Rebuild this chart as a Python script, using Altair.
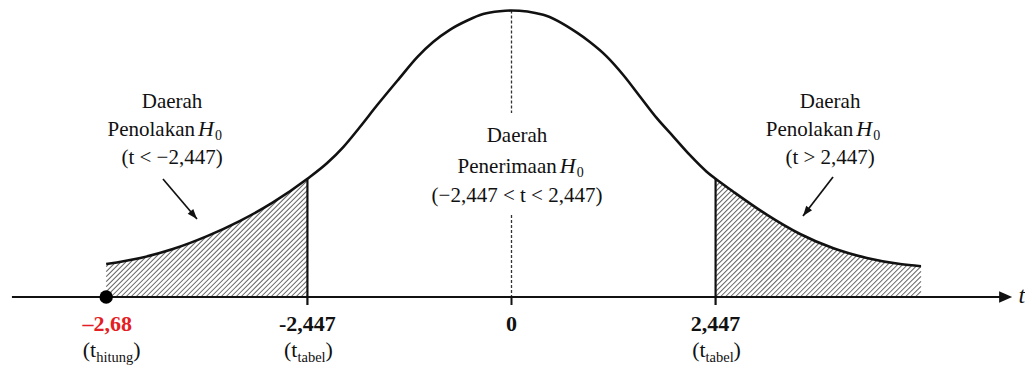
import math
import altair as alt
import pandas as pd

# ---------------- data ----------------
# curve heights (relative density) left half and right half, read separately
LEFT_T = [-4.86, -4.45, -4.06, -3.65, -3.26, -2.86, -2.447, -2.21, -2.02, -1.82,
          -1.61, -1.34, -1.13, -0.94, -0.74, -0.53, -0.34, -0.14, 0.0]
LEFT_Y = [0.046, 0.0545, 0.067, 0.085, 0.106, 0.132, 0.165, 0.187, 0.209, 0.237,
          0.268, 0.306, 0.335, 0.356, 0.373, 0.386, 0.395, 0.399, 0.400]
RIGHT_T = [0.38, 0.785, 0.94, 1.14, 1.34, 1.54, 1.74, 1.94, 2.14, 2.34, 2.447,
           2.66, 3.06, 3.46, 3.86, 4.26, 4.66, 4.91]
RIGHT_Y = [0.394, 0.369, 0.356, 0.336, 0.310, 0.280, 0.250, 0.224, 0.198, 0.175, 0.165,
           0.147, 0.115, 0.088, 0.068, 0.0545, 0.046, 0.043]

T_CRIT = 2.447
T_HITUNG_POS = -4.86          # where the dot is drawn
TICK_T = [-2.447, 0.0, 2.447]
TICK_LABELS = ["-2,447", "0", "2,447"]
HITUNG_LABEL = "–2,68"
SUB_LABELS = ["hitung", "tabel", "tabel"]

ANN_X = [-4.07, 0.066, 3.82]
ANN_L1 = ["Daerah", "Daerah", "Daerah"]
ANN_L1_Y = [0.264, 0.216, 0.264]
ANN_L2 = ["Penolakan", "Penerimaan", "Penolakan"]
ANN_L2_END = [-3.795, 0.542, 4.098]
ANN_L2_Y = [0.225, 0.173, 0.225]
ANN_L3 = ["(t < −2,447)", "(−2,447 < t < 2,447)", "(t > 2,447)"]
ANN_L3_Y = [0.186, 0.133, 0.186]

ARROW_X1 = [-4.179, 3.855]
ARROW_Y1 = [0.1647, 0.1675]
ARROW_X2 = [-3.771, 3.495]
ARROW_Y2 = [0.1089, 0.1131]

AXIS_START = -5.99
AXIS_HEAD = 5.925
AXIS_LABEL_T = 6.16
LBL_Y = -0.0475
SUB_Y = -0.0838
TICK_LOW = -0.0112
DOT_GAP = [0.2569, 0.1145]   # dotted centre line broken around the text

# ---------------- layout ----------------
W, H = 1017, 359
X0_PX, Y0_PX = 503.5, 289.0
SX, SY = 83.4, 716.25
XDOM = [-X0_PX / SX, (W - X0_PX) / SX]
YDOM = [-(H - Y0_PX) / SY, Y0_PX / SY]
SERIF = "Liberation Serif"
RED = "#e31e24"
INK = "#111111"


def X(f):
    return alt.X(f, type="quantitative", scale=alt.Scale(domain=XDOM, nice=False, zero=False), axis=None)


def Y(f):
    return alt.Y(f, type="quantitative", scale=alt.Scale(domain=YDOM, nice=False, zero=False), axis=None)


curve = pd.DataFrame({"t": LEFT_T + RIGHT_T, "y": LEFT_Y + RIGHT_Y}).sort_values("t")

HATCH_TOP = 0.168
MASK_TOP = 0.172


def hatch(x0, x1, top, step=5.0):
    w = (x1 - x0) * SX
    h = top * SY
    rows = []
    c = -h
    while c < w:
        s0 = max(0.0, c)
        s1 = min(w, c + h)
        if s1 > s0:
            rows.append({"hx": x0 + s0 / SX, "hy": (s0 - c) / SY,
                         "hx2": x0 + s1 / SX, "hy2": (s1 - c) / SY})
        c += step
    return rows


hatch_df = pd.DataFrame(hatch(LEFT_T[0], -T_CRIT, HATCH_TOP) + hatch(T_CRIT, RIGHT_T[-1], HATCH_TOP))

left_mask = curve[curve.t <= -2.0].assign(top=MASK_TOP)
right_mask = curve[curve.t >= 2.1].assign(top=MASK_TOP)

hatch_layer = alt.Chart(hatch_df).mark_rule(color="#666666", strokeWidth=1.05).encode(
    x=X("hx"), y=Y("hy"), x2=alt.X2("hx2"), y2=alt.Y2("hy2"))
mask_l = alt.Chart(left_mask).mark_area(color="white", interpolate="monotone").encode(
    x=X("t"), y=Y("y"), y2=alt.Y2("top"))
mask_r = alt.Chart(right_mask).mark_area(color="white", interpolate="monotone").encode(
    x=X("t"), y=Y("y"), y2=alt.Y2("top"))
edge_df = pd.DataFrame({
    "x": [LEFT_T[0] - 0.06, RIGHT_T[-1] - 0.01],
    "x2": [LEFT_T[0] + 0.01, RIGHT_T[-1] + 0.06],
    "y": [LEFT_Y[0] + 0.003, RIGHT_Y[-1] + 0.003],
    "y2": [MASK_TOP, MASK_TOP],
})
edge_mask = alt.Chart(edge_df).mark_rect(color="white").encode(
    x=X("x"), x2=alt.X2("x2"), y=Y("y"), y2=alt.Y2("y2"))

dotted_df = pd.DataFrame({"x": [0.0, 0.0], "y": [max(LEFT_Y), DOT_GAP[1]], "y2": [DOT_GAP[0], 0.0]})
dotted = alt.Chart(dotted_df).mark_rule(color="#333333", strokeWidth=1.3, strokeDash=[3, 2]).encode(
    x=X("x"), y=Y("y"), y2=alt.Y2("y2"))

curve_line = alt.Chart(curve).mark_line(color=INK, strokeWidth=2.6, interpolate="monotone").encode(
    x=X("t"), y=Y("y"))

crit_df = pd.DataFrame({"x": [-T_CRIT, T_CRIT], "y": [0.165, 0.165], "y2": [TICK_LOW, TICK_LOW]})
crit = alt.Chart(crit_df).mark_rule(color=INK, strokeWidth=2.2).encode(x=X("x"), y=Y("y"), y2=alt.Y2("y2"))

zero_tick = alt.Chart(pd.DataFrame({"x": [0.0], "y": [0.0], "y2": [TICK_LOW]})).mark_rule(
    color=INK, strokeWidth=2).encode(x=X("x"), y=Y("y"), y2=alt.Y2("y2"))

axis_df = pd.DataFrame({"x": [AXIS_START], "x2": [AXIS_HEAD], "y": [0.0]})
axis_line = alt.Chart(axis_df).mark_rule(color=INK, strokeWidth=2).encode(x=X("x"), x2=alt.X2("x2"), y=Y("y"))
axis_head = alt.Chart(pd.DataFrame({"x": [AXIS_HEAD], "y": [0.0]})).mark_point(
    shape="M1,0 L-1,-0.9 L-1,0.9 Z", filled=True, size=169, color=INK, opacity=1).encode(
    x=X("x"), y=Y("y"))

dot = alt.Chart(pd.DataFrame({"x": [T_HITUNG_POS], "y": [0.0]})).mark_point(
    shape="circle", filled=True, size=180, color="black", opacity=1).encode(x=X("x"), y=Y("y"))

arrows = pd.DataFrame({"x": ARROW_X1, "y": ARROW_Y1, "x2": ARROW_X2, "y2": ARROW_Y2})
arrows["ang"] = [
    math.degrees(math.atan2((b - a) * SX, (d - c) * SY)) % 360
    for a, b, c, d in zip(ARROW_X1, ARROW_X2, ARROW_Y1, ARROW_Y2)
]
arrow_shaft = alt.Chart(arrows).mark_rule(color=INK, strokeWidth=1.7).encode(
    x=X("x"), y=Y("y"), x2=alt.X2("x2"), y2=alt.Y2("y2"))
arrow_head = alt.Chart(arrows).mark_point(
    shape="M0,0 L0.55,1.5 L-0.55,1.5 Z", filled=True, size=180, color=INK, opacity=1).encode(
    x=X("x2"), y=Y("y2"), angle=alt.Angle("ang:Q", scale=None))


def text_layer(xs, ys, labels, **mk):
    df = pd.DataFrame({"x": xs, "y": ys, "label": labels})
    mk.setdefault("color", INK)
    return alt.Chart(df).mark_text(font=SERIF, baseline="alphabetic", **mk).encode(
        x=X("x"), y=Y("y"), text=alt.Text("label:N"))


texts = [
    text_layer(ANN_X, ANN_L1_Y, ANN_L1, fontSize=21, align="center"),
    text_layer(ANN_L2_END, ANN_L2_Y, ANN_L2, fontSize=21, align="right"),
    text_layer(ANN_L2_END, ANN_L2_Y, ["H"] * 3, fontSize=22, align="left", fontStyle="italic", dx=3),
    text_layer(ANN_L2_END, ANN_L2_Y, ["0"] * 3, fontSize=14, align="left", dx=20, dy=4),
    text_layer(ANN_X, ANN_L3_Y, ANN_L3, fontSize=21, align="center"),
    text_layer(TICK_T, [LBL_Y] * 3, TICK_LABELS, fontSize=22, fontWeight="bold", align="center"),
    text_layer([T_HITUNG_POS], [LBL_Y], [HITUNG_LABEL], fontSize=22, fontWeight="bold",
               align="center", color=RED, dx=1),
    text_layer([T_HITUNG_POS] + TICK_T[::2], [SUB_Y] * 3, ["(t"] * 3, fontSize=22, align="right", dx=-10),
    text_layer([T_HITUNG_POS] + TICK_T[::2], [SUB_Y] * 3, SUB_LABELS, fontSize=14.5, align="left", dx=-10, dy=5),
    text_layer([T_HITUNG_POS], [SUB_Y], [")"], fontSize=22, align="left", dx=27),
    text_layer(TICK_T[::2], [SUB_Y] * 2, [")", ")"], fontSize=22, align="left", dx=18),
    text_layer([AXIS_LABEL_T], [-0.0084], ["t"], fontSize=24, align="right", fontStyle="italic"),
]

chart = alt.layer(
    hatch_layer, mask_l, mask_r, edge_mask, dotted, curve_line, crit, zero_tick, axis_line, axis_head,
    dot, arrow_shaft, arrow_head, *texts
).properties(
    width=W, height=H, padding=0, autosize=alt.AutoSizeParams(type="none"), background="white"
).configure_view(stroke=None)

chart.save("out.html", embed_options={"renderer": "svg", "actions": False})
